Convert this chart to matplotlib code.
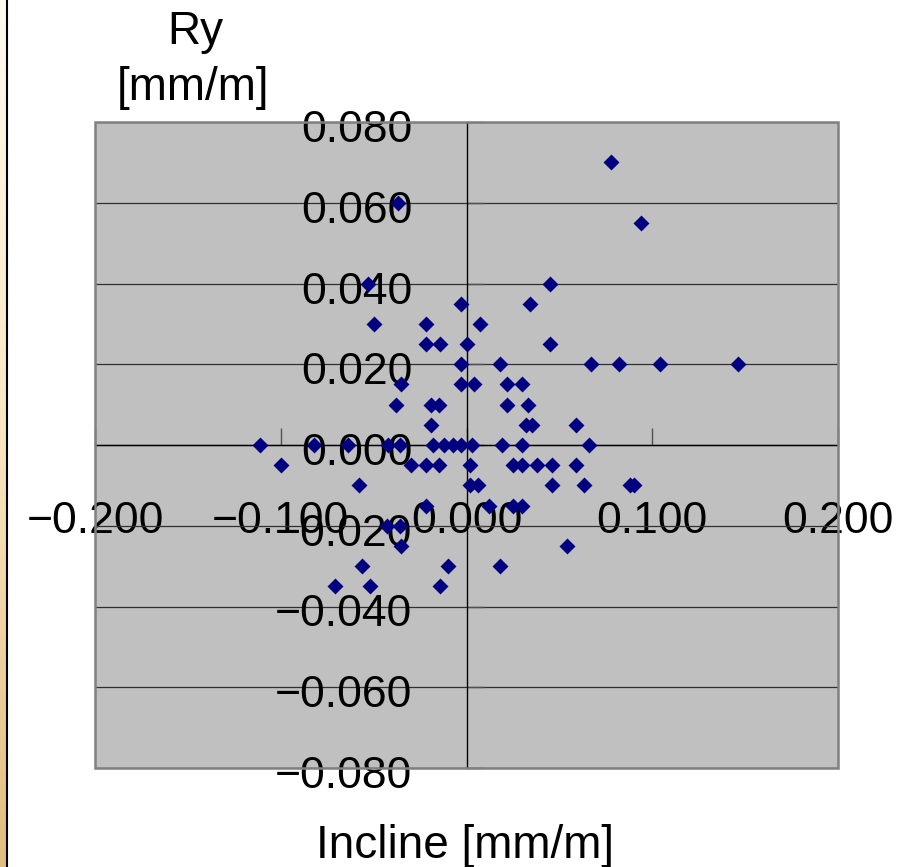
import numpy as np
import matplotlib.pyplot as plt
from matplotlib.patches import Rectangle
from matplotlib.lines import Line2D
from matplotlib.transforms import ScaledTranslation

plt.rcParams['font.family'] = ['Liberation Sans', 'DejaVu Sans']

# Incline [mm/m] vs Ry [mm/m]
incline = [0.078, 0.094, -0.037, -0.053, -0.050, -0.022, -0.022, -0.014, -0.003, 0.000,
           -0.003, 0.007, 0.034, 0.045, 0.045, 0.018, 0.067, 0.082, 0.104, 0.146,
           -0.035, -0.003, 0.004, 0.022, 0.030,
           -0.038, -0.019, -0.015, 0.022, 0.033,
           -0.019, 0.032, 0.035, 0.059,
           -0.111, -0.082, -0.064, -0.042, -0.036, -0.018, -0.012, -0.007, -0.003, 0.003,
           0.019, 0.030, 0.066,
           -0.100, -0.030, -0.022, -0.015, 0.002, 0.025, 0.030, 0.038, 0.046, 0.059,
           -0.058, 0.002, 0.006, 0.046, 0.063, 0.088, 0.090,
           -0.022, 0.012, 0.025, 0.030,
           -0.043, -0.036,
           -0.035, 0.054,
           -0.056, -0.010, 0.018,
           -0.071, -0.052, -0.014]
ry = [0.070, 0.055, 0.060, 0.040, 0.030, 0.030, 0.025, 0.025, 0.035, 0.025,
      0.020, 0.030, 0.035, 0.040, 0.025, 0.020, 0.020, 0.020, 0.020, 0.020,
      0.015, 0.015, 0.015, 0.015, 0.015,
      0.010, 0.010, 0.010, 0.010, 0.010,
      0.005, 0.005, 0.005, 0.005,
      0.0, 0.0, 0.0, 0.0, 0.0, 0.0, 0.0, 0.0, 0.0, 0.0,
      0.0, 0.0, 0.0,
      -0.005, -0.005, -0.005, -0.005, -0.005, -0.005, -0.005, -0.005, -0.005, -0.005,
      -0.010, -0.010, -0.010, -0.010, -0.010, -0.010, -0.010,
      -0.015, -0.015, -0.015, -0.015,
      -0.020, -0.020,
      -0.025, -0.025,
      -0.030, -0.030, -0.030,
      -0.035, -0.035, -0.035]

x_ticks = [-0.2, -0.1, 0.0, 0.1, 0.2]
y_ticks = [-0.08, -0.06, -0.04, -0.02, 0.0, 0.02, 0.04, 0.06, 0.08]

W, H = 899, 867
fig = plt.figure(figsize=(W / 100, H / 100), dpi=100)

# beige strip + black line on the far left
strip = fig.add_axes([0, 0, 6 / W, 1])
grad = np.linspace(0, 1, 256).reshape(-1, 1)
strip.imshow(grad, aspect='auto', cmap=plt.matplotlib.colors.LinearSegmentedColormap.from_list(
    'tan', ['#fffaf0', '#f8e6c0', '#e2bc80']), extent=[0, 1, 0, 1], origin='upper')
strip.axis('off')
fig.add_artist(Line2D([7 / W, 7 / W], [0, 1], color='black', lw=1.5))

ax = fig.add_axes([95 / W, 1 - 768 / H, (838 - 95) / W, (768 - 122) / H])
ax.set_facecolor('#c0c0c0')
ax.set_xlim(-0.2, 0.2)
ax.set_ylim(-0.08, 0.08)

ax.scatter(incline, ry, marker='D', s=66, color='#000080', linewidths=0, zorder=3)

ax.spines['left'].set_position(('data', 0))
ax.spines['bottom'].set_position(('data', 0))
ax.spines['top'].set_visible(False)
ax.spines['right'].set_visible(False)
for s in ['left', 'bottom']:
    ax.spines[s].set_color('black')
    ax.spines[s].set_linewidth(1.0)
ax.add_patch(Rectangle((0, 0), 1, 1, transform=ax.transAxes, fill=False,
                       edgecolor='#808080', lw=1.8, zorder=4, clip_on=False))

ax.set_xticks(x_ticks)
ax.set_yticks(y_ticks)
ax.set_xticklabels([f'{v:.3f}'.replace('-', '\u2212') for v in x_ticks])
ax.set_yticklabels([f'{v:.3f}'.replace('-', '\u2212') for v in y_ticks])
ax.tick_params(axis='both', direction='in', labelsize=32, colors='#505050',
               labelcolor='black', width=1, length=12)
ax.tick_params(axis='x', pad=40)
ax.tick_params(axis='y', pad=39)
ax.yaxis.grid(True, color='#303030', lw=0.9)
ax.set_axisbelow(True)
shift = ScaledTranslation(0, -4 / 100, fig.dpi_scale_trans)
for lbl in ax.get_yticklabels():
    lbl.set_transform(lbl.get_transform() + shift)
for lbl in ax.get_xticklabels() + ax.get_yticklabels():
    lbl.set_zorder(5)

fig.text(195 / W, 1 - 32 / H, 'Ry', ha='center', va='center', fontsize=33)
fig.text(193 / W, 1 - 88 / H, '[mm/m]', ha='center', va='center', fontsize=33)
fig.text(465 / W, 1 - 846 / H, 'Incline [mm/m]', ha='center', va='center', fontsize=33)

fig.savefig('out.png', dpi=100, facecolor='white')
